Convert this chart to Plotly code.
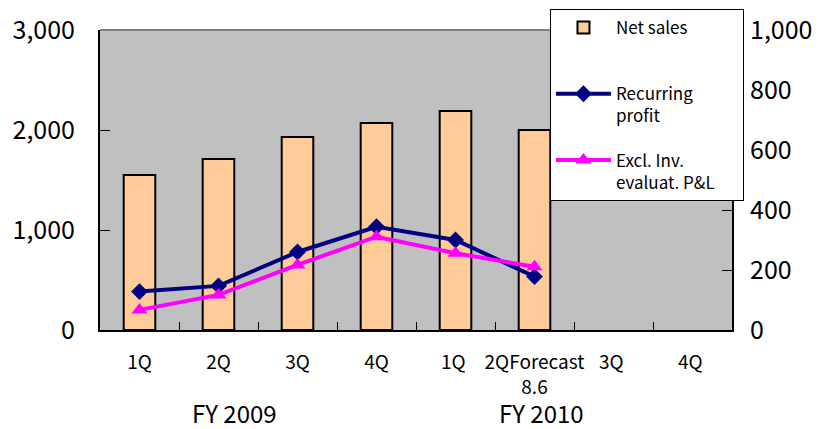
import plotly.graph_objects as go

categories = ["1Q", "2Q", "3Q", "4Q", "1Q ", "2QForecast<br>8.6", "3Q ", "4Q "]
net_sales = [1550, 1710, 1930, 2070, 2190, 2000, None, None]
recurring_profit = [128, 147, 260, 344, 300, 178, None, None]
excl_inv = [67, 117, 217, 311, 256, 211, None, None]
left_ticks = [0, 1000, 2000, 3000]
right_ticks = [0, 200, 400, 600, 800, 1000]

FONT = "Noto Sans CJK JP, DejaVu Sans, sans-serif"
PAD = "\u00a0" * 6

fig = go.Figure()
fig.add_trace(go.Bar(
    x=categories, y=net_sales, name="Net sales<br>\u00a0", width=0.4,
    marker=dict(color="#FFCC99", line=dict(color="black", width=2)),
    legendgroup="a",
))
fig.add_trace(go.Scatter(
    x=categories, y=recurring_profit, name="Recurring<br>profit", yaxis="y2",
    mode="lines+markers", line=dict(color="#000080", width=4),
    marker=dict(symbol="diamond", size=13, color="#000080"),
    legendgroup="b",
))
fig.add_trace(go.Scatter(
    x=categories, y=excl_inv, name="Excl. Inv.<br>evaluat. P&L" + PAD, yaxis="y2",
    mode="lines+markers", line=dict(color="#FF00FF", width=4),
    marker=dict(symbol="triangle-up", size=14, color="#FF00FF"),
    legendgroup="c",
))

fig.update_layout(
    width=813, height=421,
    margin=dict(l=92, r=89, t=22, b=99, autoexpand=False),
    paper_bgcolor="white", plot_bgcolor="#C0C0C0",
    font=dict(family=FONT, color="black"),
    showlegend=True,
    legend=dict(
        x=0.712, y=1.07, xanchor="left", yanchor="top",
        bgcolor="white", bordercolor="black", borderwidth=1,
        font=dict(size=17, family=FONT), tracegroupgap=19,
        traceorder="grouped", itemwidth=55, valign="top",
    ),
    xaxis=dict(
        type="category", range=[-0.5, 7.5], automargin=False,
        showline=True, linecolor="black", linewidth=2, mirror=False,
        ticks="inside", ticklen=8, tickcolor="black", tickson="boundaries",
        tickfont=dict(size=19), tickangle=0, ticklabelstandoff=14,
        showgrid=False,
    ),
    yaxis=dict(
        range=[0, 3000], tickvals=left_ticks, tickformat=",d", automargin=False,
        showline=True, linecolor="black", linewidth=2,
        ticks="inside", ticklen=10, tickcolor="black", ticklabelstandoff=18,
        tickfont=dict(size=25), showgrid=False, zeroline=False,
    ),
    yaxis2=dict(
        range=[0, 1000], tickvals=right_ticks, tickformat=",d", automargin=False,
        overlaying="y", side="right",
        showline=True, linecolor="black", linewidth=2,
        ticks="inside", ticklen=10, tickcolor="black", ticklabelstandoff=11,
        tickfont=dict(size=25), showgrid=False, zeroline=False,
    ),
    shapes=[dict(type="line", xref="paper", yref="paper", x0=0, x1=1, y0=1, y1=1,
                 line=dict(color="#808080", width=2))],
    annotations=[
        dict(text="FY 2009", x=0.2136, y=-0.276, xref="paper", yref="paper",
             xanchor="center", yanchor="middle",
             showarrow=False, font=dict(size=24, family=FONT)),
        dict(text="FY 2010", x=0.699, y=-0.276, xref="paper", yref="paper",
             xanchor="center", yanchor="middle",
             showarrow=False, font=dict(size=24, family=FONT)),
    ],
)

fig.write_html("out.html")
